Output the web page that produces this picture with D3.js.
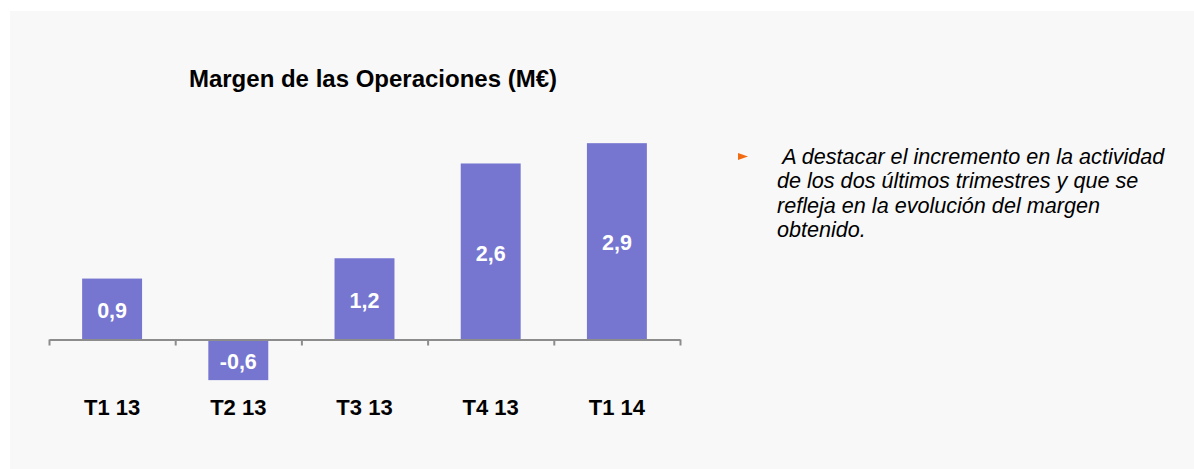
<!DOCTYPE html>
<html>
<head>
<meta charset="utf-8">
<script src="https://cdn.jsdelivr.net/npm/d3@7"></script>
<style>
  body { margin: 0; background: #fff; }
  text { font-family: "Liberation Sans", Arial, sans-serif; }
</style>
</head>
<body>
<svg width="1194" height="469"></svg>
<script>
const quarters = ["T1 13", "T2 13", "T3 13", "T4 13", "T1 14"];
const margins = [0.9, -0.6, 1.2, 2.6, 2.9];
const valueLabels = ["0,9", "-0,6", "1,2", "2,6", "2,9"];
const title = "Margen de las Operaciones (M€)";
const noteLines = [
  " A destacar el incremento en la actividad",
  "de los dos últimos trimestres y que se",
  "refleja en la evolución del margen",
  "obtenido."
];

const svg = d3.select("svg");
const width = +svg.attr("width");
const height = +svg.attr("height");

svg.append("rect")
  .attr("x", 10).attr("y", 11)
  .attr("width", width - 10).attr("height", height - 11)
  .attr("fill", "#f8f8f8");

const data = quarters.map((q, i) => ({ q, v: margins[i], label: valueLabels[i] }));

const xScale = d3.scaleBand()
  .domain(quarters)
  .range([49, 680])
  .paddingInner(0.525)
  .paddingOuter(0.2625);

const yScale = d3.scaleLinear()
  .domain([0, 1])
  .range([339.5, 271.8]);

// bars
svg.selectAll(".bar")
  .data(data)
  .enter().append("rect")
  .attr("class", "bar")
  .attr("x", d => xScale(d.q))
  .attr("width", xScale.bandwidth())
  .attr("y", d => yScale(Math.max(0, d.v)))
  .attr("height", d => Math.abs(yScale(d.v) - yScale(0)))
  .attr("fill", "#7676d1");

// axis with ticks at band edges
const edgeScale = d3.scaleLinear().domain([0, quarters.length]).range([49, 680]);
const axisG = svg.append("g")
  .attr("transform", `translate(0,${yScale(0)})`)
  .call(d3.axisBottom(edgeScale)
    .tickValues(d3.range(quarters.length + 1))
    .tickFormat("")
    .tickSize(6)
    .tickSizeOuter(0));
axisG.selectAll("path, line").attr("stroke", "#8c8c8c").attr("stroke-width", 2);

// value labels
svg.selectAll(".val")
  .data(data)
  .enter().append("text")
  .attr("class", "val")
  .attr("x", d => xScale(d.q) + xScale.bandwidth() / 2)
  .attr("y", d => (yScale(d.v) + yScale(0)) / 2)
  .attr("dy", "0.42em")
  .attr("text-anchor", "middle")
  .attr("fill", "#fff")
  .attr("font-weight", "bold")
  .attr("font-size", 21.5)
  .text(d => d.label);

// category labels
svg.selectAll(".cat")
  .data(data)
  .enter().append("text")
  .attr("class", "cat")
  .attr("x", d => xScale(d.q) + xScale.bandwidth() / 2)
  .attr("y", 407)
  .attr("dy", "0.36em")
  .attr("text-anchor", "middle")
  .attr("fill", "#000")
  .attr("font-weight", "bold")
  .attr("font-size", 22)
  .text(d => d.q);

// title
svg.append("text")
  .attr("x", 373)
  .attr("y", 78)
  .attr("dy", "0.36em")
  .attr("text-anchor", "middle")
  .attr("font-weight", "bold")
  .attr("font-size", 24)
  .text(title);

// note with bullet
svg.append("path")
  .attr("d", "M738,153 L748,156.5 L738,160 Z")
  .attr("fill", "#f26b10");

svg.append("g")
  .selectAll("text")
  .data(noteLines)
  .enter().append("text")
  .attr("x", 777)
  .attr("y", (d, i) => 156 + i * 24.5)
  .attr("dy", "0.36em")
  .attr("font-style", "italic")
  .attr("font-size", 21.6)
  .attr("fill", "#000")
  .attr("xml:space", "preserve")
  .style("white-space", "pre")
  .text(d => d);
</script>
</body>
</html>
